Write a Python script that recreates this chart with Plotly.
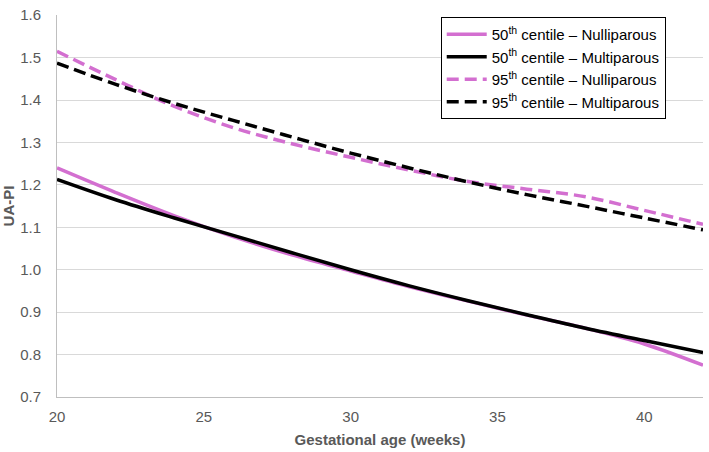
import plotly.graph_objects as go

weeks = [20, 22, 24, 26, 28, 30, 32, 34, 36, 38, 40, 42]
p50_nulli = [1.240, 1.182, 1.127, 1.078, 1.035, 0.997, 0.960, 0.926, 0.893, 0.862, 0.825, 0.775]
p50_multi = [1.213, 1.165, 1.122, 1.081, 1.040, 1.000, 0.962, 0.927, 0.894, 0.862, 0.833, 0.805]
p95_nulli = [1.515, 1.448, 1.385, 1.335, 1.297, 1.265, 1.235, 1.208, 1.190, 1.172, 1.140, 1.107]
p95_multi = [1.487, 1.437, 1.392, 1.352, 1.313, 1.275, 1.240, 1.207, 1.177, 1.150, 1.122, 1.094]

x_ticks = [20, 25, 30, 35, 40]
y_ticks = [0.7, 0.8, 0.9, 1.0, 1.1, 1.2, 1.3, 1.4, 1.5, 1.6]
y_ticklabels = ["0.7", "0.8", "0.9", "1.0", "1.1", "1.2", "1.3", "1.4", "1.5", "1.6"]

names = ["50<sup>th</sup> centile – Nulliparous", "50<sup>th</sup> centile – Multiparous",
         "95<sup>th</sup> centile – Nulliparous", "95<sup>th</sup> centile – Multiparous"]
PINK = "#d36fd0"
BLACK = "#000000"

fig = go.Figure()
series = [(p50_nulli, PINK, "solid"), (p50_multi, BLACK, "solid"),
          (p95_nulli, PINK, "12px,6px"), (p95_multi, BLACK, "12px,6px")]
for (vals, col, dash), nm in zip(series, names):
    fig.add_trace(go.Scatter(x=weeks, y=vals, mode="lines", name=nm,
                             line=dict(color=col, width=3.5, dash=dash, shape="spline")))

grey = "#595959"
fig.update_layout(
    width=709, height=452,
    margin=dict(l=55, r=6, t=8, b=54),
    paper_bgcolor="white", plot_bgcolor="white",
    font=dict(family="Liberation Sans, Arial, sans-serif", color=grey, size=15),
    legend=dict(x=0.594, y=0.995, xanchor="left", yanchor="top",
                bgcolor="white", bordercolor="black", borderwidth=1,
                font=dict(size=15, color="black"), tracegroupgap=0,
                itemwidth=40),
    xaxis=dict(range=[20, 42], tickvals=x_ticks, showgrid=False,
               showline=True, linecolor="#bfbfbf", linewidth=1, ticks="",
               ticklabelstandoff=6,
               title=dict(text="<b>Gestational age (weeks)</b>", font=dict(size=15, color=grey), standoff=10),
               tickfont=dict(size=15, color=grey)),
    yaxis=dict(range=[0.7, 1.6005], tickvals=y_ticks, ticktext=y_ticklabels, showgrid=True,
               gridcolor="#d9d9d9", gridwidth=1, showline=True, linecolor="#bfbfbf",
               linewidth=1, ticks="", zeroline=False, ticklabelstandoff=12,
               ticklabeloverflow="allow",
               title=dict(text="<b>UA-PI</b>", font=dict(size=15, color=grey), standoff=4),
               tickfont=dict(size=15, color=grey)),
)

fig.write_html("out.html")
